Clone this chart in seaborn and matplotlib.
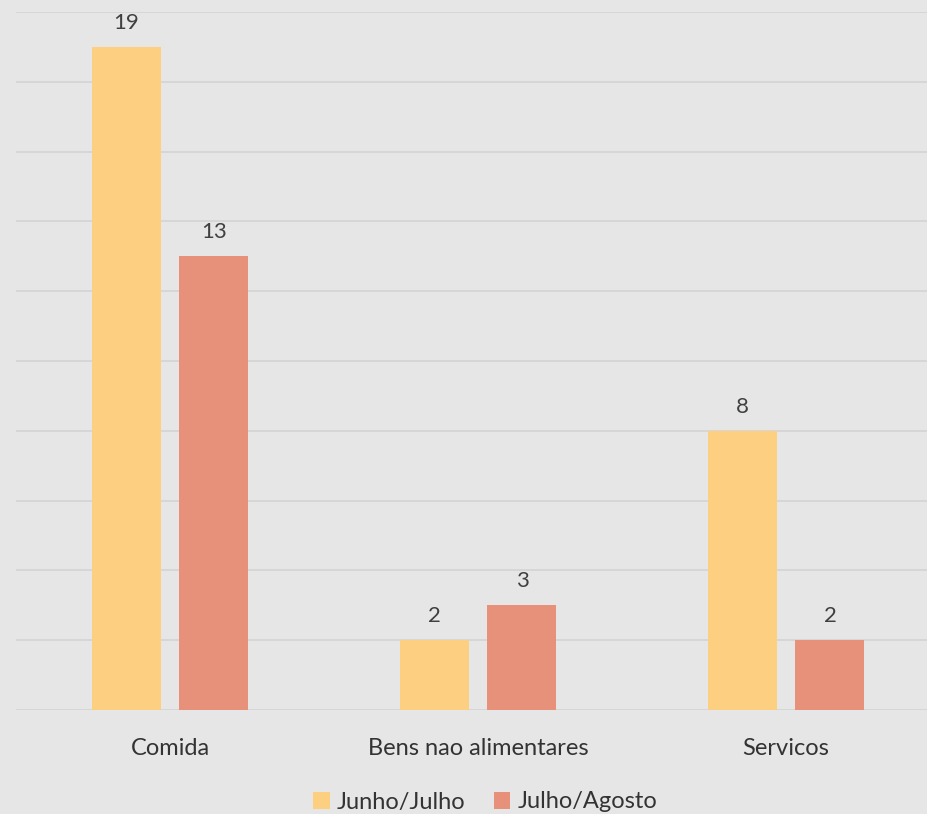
import matplotlib
matplotlib.use("Agg")
import matplotlib.pyplot as plt
import seaborn as sns
import pandas as pd

categories = ["Comida", "Bens nao alimentares", "Servicos"]
series_names = ["Junho/Julho", "Julho/Agosto"]
junho_julho = [19, 2, 8]
julho_agosto = [13, 3, 2]
colors = ["#FDCF81", "#E8917A"]

rows = []
for c, a, b in zip(categories, junho_julho, julho_agosto):
    rows.append({"cat": c, "serie": series_names[0], "val": a})
    rows.append({"cat": c, "serie": series_names[1], "val": b})
df = pd.DataFrame(rows)

sns.set_theme(style="white")
plt.rcParams["font.family"] = ["Lato", "DejaVu Sans"]

bg = "#E6E6E6"
fig = plt.figure(figsize=(9.27, 8.14), dpi=100, facecolor=bg)
ax = fig.add_axes([16 / 927, 104 / 814, 924 / 927, 698 / 814])
ax.set_facecolor(bg)

sns.barplot(data=df, x="cat", y="val", hue="serie", palette=colors,
            width=0.571, gap=0.216, ax=ax, saturation=1, linewidth=0)

ax.set_xlim(-0.5, 2.5)
ax.set_ylim(0, 20)
ax.set_yticks(range(0, 21, 2))
ax.yaxis.grid(True, color="#D6D6D6", linewidth=1.4)
ax.set_axisbelow(True)
ax.tick_params(axis="y", left=False, labelleft=False)
ax.tick_params(axis="x", bottom=False, labelsize=17, colors="#333333", pad=14)
ax.set_xlabel("")
ax.set_ylabel("")
for s in ax.spines.values():
    s.set_visible(False)

for cont in ax.containers:
    ax.bar_label(cont, labels=[f"{v:g}" for v in cont.datavalues],
                 padding=10, fontsize=16, color="#404040")

handles, labels = ax.get_legend_handles_labels()
ax.legend(handles, labels, loc="center", bbox_to_anchor=(485 / 927, 12 / 814),
          bbox_transform=fig.transFigure, ncol=2, frameon=False, fontsize=17,
          handlelength=0.7, handleheight=0.7, handletextpad=0.3, columnspacing=1.2,
          labelcolor="#333333")

fig.savefig("out.png", dpi=100, facecolor=bg)
